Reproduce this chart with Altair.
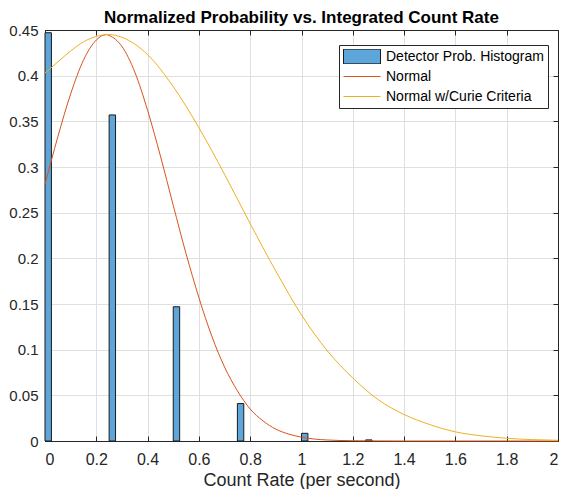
import altair as alt
import pandas as pd

TITLE = "Normalized Probability vs. Integrated Count Rate"
X_TITLE = "Count Rate (per second)"
series_names = ["Detector Prob. Histogram", "Normal", "Normal w/Curie Criteria"]
series_colors = ["#5EA5DA", "#D95319", "#EDB120"]

# histogram bins (left edges) and normalized probabilities
bin_left = [0.0, 0.25, 0.5, 0.75, 1.0, 1.25]
bin_prob = [0.447, 0.357, 0.147, 0.041, 0.0084, 0.0012]
bin_width = 0.025

# "Normal" curve
normal_x = [0.0, 0.05, 0.1, 0.15, 0.2, 0.24, 0.25, 0.3, 0.35, 0.4, 0.45, 0.5, 0.55,
            0.6, 0.65, 0.7, 0.75, 0.8, 0.85, 0.9, 0.95, 1.0, 1.1, 1.2, 1.3, 1.4, 1.6, 2.0]
normal_y = [0.281, 0.333, 0.380, 0.417, 0.439, 0.445, 0.444, 0.432, 0.404, 0.362, 0.312, 0.258, 0.205,
            0.157, 0.115, 0.081, 0.055, 0.035, 0.022, 0.013, 0.0076, 0.0042, 0.0011, 0.0003, 0.0001, 0.0, 0.0, 0.0]

# "Normal w/Curie Criteria" curve
curie_x = [0.0, 0.05, 0.1, 0.15, 0.2, 0.25, 0.3, 0.4, 0.5, 0.6, 0.7, 0.8, 0.9, 1.0,
           1.1, 1.2, 1.3, 1.4, 1.5, 1.6, 1.7, 1.8, 1.9, 2.0]
curie_y = [0.403, 0.415, 0.427, 0.437, 0.443, 0.445, 0.442, 0.423, 0.388, 0.343, 0.292, 0.238, 0.186, 0.138,
           0.099, 0.069, 0.045, 0.029, 0.018, 0.010, 0.0057, 0.003, 0.0015, 0.0008]

x_ticks = [0, 0.2, 0.4, 0.6, 0.8, 1.0, 1.2, 1.4, 1.6, 1.8, 2.0]
y_ticks = [0, 0.05, 0.1, 0.15, 0.2, 0.25, 0.3, 0.35, 0.4, 0.45]

W, H = 513, 411
PAD = {"left": 37, "top": 22, "right": 5, "bottom": 48}
FONT = "Liberation Sans, Arial, Helvetica, sans-serif"
AX = "#262626"
GRID = "#DFDFDF"

bins = pd.DataFrame({"x": bin_left, "p": bin_prob, "series": series_names[0]})
normal = pd.DataFrame({"x": normal_x, "y": normal_y, "series": series_names[1]})
curie = pd.DataFrame({"x": curie_x, "y": curie_y, "series": series_names[2]})

xs = alt.Scale(domain=[0, 2], nice=False, zero=False)
ys = alt.Scale(domain=[0, 0.45], nice=False)

# main axes (labels + grid)
ax_x_main = alt.Axis(orient="bottom", values=x_ticks, format="~g", grid=True, gridColor=GRID,
                     ticks=False, tickSize=0, domain=True, domainColor=AX,
                     labelFont=FONT, labelFontSize=16, labelColor=AX, labelPadding=10,
                     title=X_TITLE, titleFont=FONT, titleFontSize=18, titleFontWeight="normal",
                     titleColor=AX, titlePadding=4)
ay_main = alt.Axis(orient="left", values=y_ticks, format="~g", grid=True, gridColor=GRID,
                   ticks=False, tickSize=0, domain=True, domainColor=AX,
                   labelFont=FONT, labelFontSize=15, labelColor=AX, labelPadding=7, title=None)
# inward ticks along bottom / left
ax_x_in = alt.Axis(orient="top", offset=-H, values=x_ticks, grid=False, ticks=True, tickSize=5,
                   tickColor=AX, domain=False, labels=False, title=None)
ay_in = alt.Axis(orient="right", offset=-W, values=y_ticks, grid=False, ticks=True, tickSize=5,
                 tickColor=AX, domain=False, labels=False, title=None)
# top / right box with inward ticks
ax_x_top = alt.Axis(orient="bottom", offset=-H, values=x_ticks, grid=False, ticks=True, tickSize=5,
                    tickColor=AX, domain=True, domainColor=AX, labels=False, title=None)
ay_right = alt.Axis(orient="left", offset=-W, values=y_ticks, grid=False, ticks=True, tickSize=5,
                    tickColor=AX, domain=True, domainColor=AX, labels=False, title=None)

hist_name = series_names[0]
leg = alt.Legend(
    title=None, orient="none", legendX=294, legendY=15, direction="vertical",
    padding=4, fillColor="white", strokeColor=AX,
    symbolType={"expr": f"datum.value === '{hist_name}' ? 'M-1,-0.4H1V0.4H-1Z' : 'stroke'"},
    symbolStrokeColor={"expr": f"datum.value === '{hist_name}' ? '#1a1a1a' : scale('stroke', datum.value)"},
    symbolSize=1369, symbolStrokeWidth=1, symbolOffset=0, symbolOpacity=1,
    labelOffset=5, labelFont=FONT, labelFontSize=14, labelColor="black",
    rowPadding=5, clipHeight=15, labelLimit=400,
)

bars = alt.Chart(bins).transform_calculate(
    x2=f"datum.x + {bin_width}"
).mark_rect(stroke="#1a1a1a", strokeWidth=1).encode(
    x=alt.X("x:Q", scale=xs, axis=ax_x_main),
    x2="x2:Q",
    y=alt.Y("p:Q", scale=ys, axis=ay_main),
    y2=alt.datum(0),
    fill=alt.Fill("series:N",
                  scale=alt.Scale(domain=series_names,
                                  range=[series_colors[0], "transparent", "transparent"]),
                  legend=leg),
)

line_scale = alt.Scale(domain=series_names[1:], range=series_colors[1:])

red = alt.Chart(normal).mark_line(strokeWidth=1, interpolate="monotone").encode(
    x=alt.X("x:Q", scale=xs, axis=ax_x_in),
    y=alt.Y("y:Q", scale=ys, axis=ay_in),
    stroke=alt.Stroke("series:N", scale=line_scale, legend=None),
)

yellow = alt.Chart(curie).mark_line(strokeWidth=1, interpolate="monotone").encode(
    x=alt.X("x:Q", scale=xs, axis=ax_x_top),
    y=alt.Y("y:Q", scale=ys, axis=ay_right),
    stroke=alt.Stroke("series:N", scale=line_scale, legend=None),
)

chart = alt.layer(bars, red, yellow).resolve_axis(
    x="independent", y="independent"
).properties(
    width=W, height=H,
    title=alt.TitleParams(TITLE, font=FONT, fontSize=17, fontWeight="bold", color="black",
                          anchor="middle", frame="group", offset=0, dy=4),
    padding=PAD,
    autosize=alt.AutoSizeParams(type="none"),
).configure_view(stroke=None)

chart.save("out.html", embed_options={"renderer": "svg", "actions": False})
